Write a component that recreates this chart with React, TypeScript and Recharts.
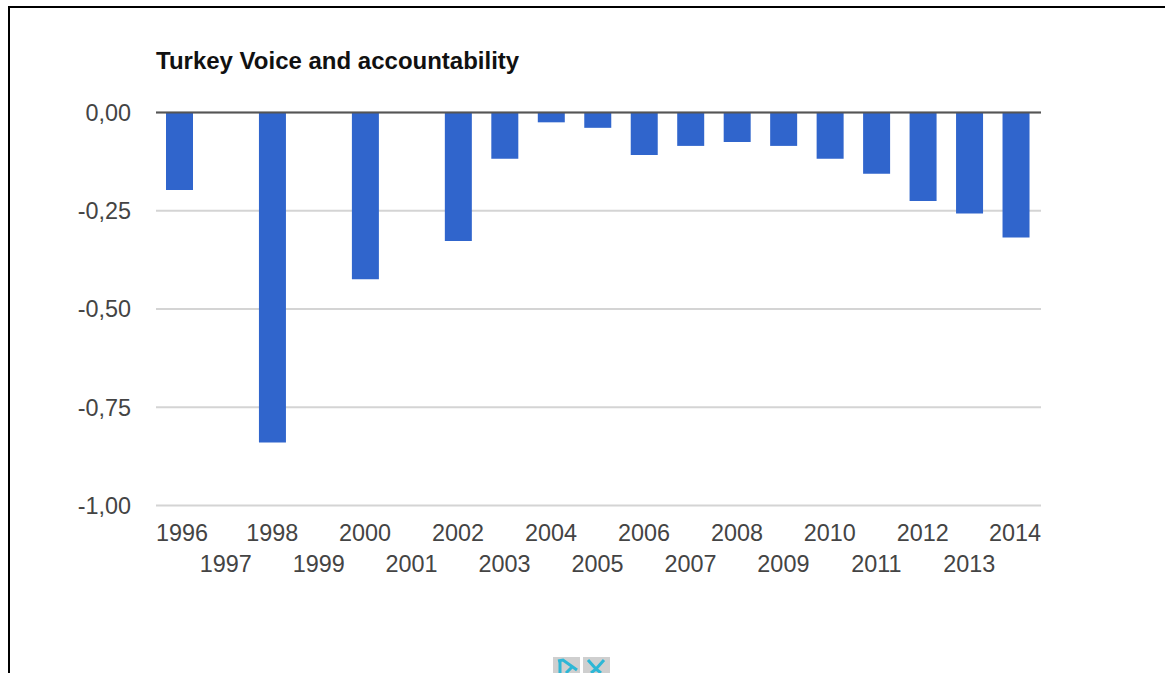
import React from "react";
import {BarChart, Bar, CartesianGrid, XAxis, YAxis, ReferenceLine} from "recharts";

const years = ["1996", "1997", "1998", "1999", "2000", "2001", "2002", "2003", "2004", "2005", "2006", "2007", "2008", "2009", "2010", "2011", "2012", "2013", "2014"];
const scores = [-0.197, null, -0.84, null, -0.424, null, -0.327, -0.118, -0.025, -0.039, -0.108, -0.085, -0.075, -0.085, -0.118, -0.156, -0.225, -0.257, -0.318];
const yTicks = [-1, -0.75, -0.5, -0.25, 0];

const data = years.map((year, i) => ({year, score: scores[i]}));
const FONT = "'Liberation Sans', Arial, sans-serif";

// Years alternate between two rows; the outer labels stay inside the plot edges
const YearTick = ({x, index, payload}: any) => {
  const anchor = index === 0 ? "start" : index === years.length - 1 ? "end" : "middle";
  const tx = index === 0 ? 156 : index === years.length - 1 ? 1041 : x;
  const ty = index % 2 === 0 ? 541 : 572;
  return (
    <text x={tx} y={ty} textAnchor={anchor} fontFamily={FONT} fontSize={23.4} fill='#444'>
      {payload.value}
    </text>
  );
};

const formatScore = (v: number) => v.toFixed(2).replace(".", ",");

const NavButton = ({left, children}: {left: number; children: React.ReactNode}) => (
  <svg width={27} height={16} style={{position: "absolute", left, top: 657, background: "#cfcfcf"}}>
    {children}
  </svg>
);

const App = () => {
  return (
    <div style={{position: "absolute", left: 0, top: 0, width: 1165, height: 673, overflow: "hidden", background: "#fff"}}>
      <div style={{position: "absolute", left: 8, top: 6, width: 1157, height: 667, borderLeft: "2px solid #000", borderTop: "2px solid #000", boxSizing: "border-box"}} />
      <div style={{position: "absolute", left: 0, top: 0}}>
        <BarChart width={1165} height={673} data={data} margin={{top: 112.5, right: 124, bottom: 67.5, left: 0}}>
          <text x={156} y={69} fontFamily={FONT} fontSize={24} fontWeight='bold' fill='#111'>
            Turkey Voice and accountability
          </text>
          <CartesianGrid vertical={false} stroke='#d4d4d4' strokeWidth={2} />
          <XAxis dataKey='year' interval={0} height={100} padding={{left: 0, right: 2}} axisLine={false} tickLine={false} tick={<YearTick />} />
          <YAxis
            width={156}
            domain={[-1, 0]}
            ticks={yTicks}
            tickFormatter={formatScore}
            axisLine={false}
            tickLine={false}
            tickMargin={19}
            tick={{fontFamily: FONT, fontSize: 23.4, fill: "#444"}}
          />
          <Bar dataKey='score' fill='#3065cc' barSize={27} isAnimationActive={false} />
          <ReferenceLine y={0} stroke='#555' strokeWidth={2} />
        </BarChart>
      </div>
      <NavButton left={553}>
        <path d="M5 4 L10 3 L24 13 M7 4 L7 16 M13 16 L19 10" stroke='#2db7d6' strokeWidth={3} fill='none' />
      </NavButton>
      <NavButton left={583}>
        <path d="M5 3 L13 12 L21 3 M13 12 L8 16 M13 12 L18 16" stroke='#2db7d6' strokeWidth={3} fill='none' />
      </NavButton>
    </div>
  );
};

export default App;
